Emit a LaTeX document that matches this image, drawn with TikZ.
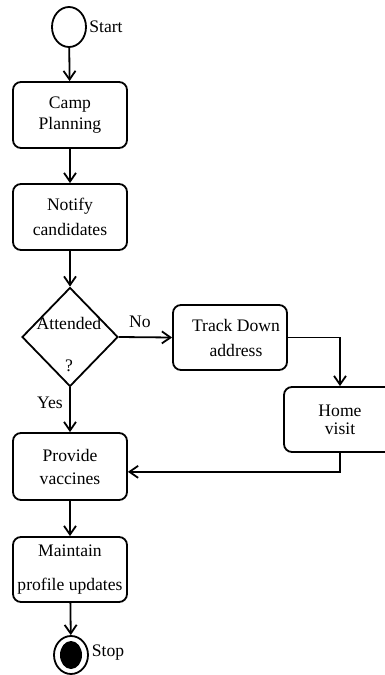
\documentclass[tikz,border=0pt]{standalone}
\usepackage{fontspec}
\setmainfont{Liberation Serif}
\usetikzlibrary{shapes.geometric,arrows.meta}
\begin{document}
\begin{tikzpicture}[x=0.75pt,y=-0.75pt,
  every node/.style={font=\fontsize{13.2}{14}\selectfont},
  act/.style={draw,rounded corners=6pt,minimum width=85.5pt,minimum height=49.5pt,align=center,inner sep=0pt,line width=1.35pt},
  flow/.style={line width=1.35pt,-{Straight Barb[length=6.5pt,width=9pt,line width=1.35pt]}},
  ]
\useasboundingbox[fill=white] (0,0) rectangle (385,675);
% nodes
\node[draw,ellipse,minimum width=25.5pt,minimum height=30pt,inner sep=0pt,line width=1.35pt] (start) at (69,27) {};
\node (startlbl) at (106,27) {Start};
\node[act] (camp) at (70,115) {Camp\\[1.75pt]Planning};
\node[act] (notify) at (70,217) {Notify\\[4.75pt]candidates};
\node[draw,diamond,minimum width=72pt,minimum height=74.25pt,inner sep=0pt,line width=1.35pt] (dec) at (70,337) {};
\node (dect) at (69,323) {Attended};
\node (decq) at (69,366) {?};
\node (nolbl) at (140,322) {No};
\node (yeslbl) at (50,403) {Yes};
\node[act,minimum height=48.75pt] (track) at (230,337.5) {\hspace*{9pt}Track Down\\[4.75pt]\hspace*{9pt}address};
\node[act,minimum width=84pt,minimum height=48.75pt] (home) at (340,419.5) {Home\\[-0.5pt]visit};
\node[act,minimum height=50.25pt] (provide) at (70,466.5) {Provide\\[3.25pt]vaccines};
\node[act,minimum height=48.75pt] (maintain) at (70,569.5) {Maintain\\[11.5pt]profile updates};
\node[draw,ellipse,minimum width=25.5pt,minimum height=28.5pt,inner sep=0pt,line width=1.35pt] (stop) at (71,655) {};
\node[fill=black,ellipse,minimum width=16.5pt,minimum height=21pt,inner sep=0pt] (stopin) at (71,655) {};
\node (stoplbl) at (108,653) {Stop};
% connectors
\draw[flow] (start) -- (camp);
\draw[flow] (camp) -- (notify);
\draw[flow] (notify) -- (dec.north);
\draw[flow] (dec.east) -- (track.west);
\draw[flow] (track.east) -| (home.north);
\draw[flow] (home.south) |- ([yshift=-4pt]provide.east);
\draw[flow] (dec.south) -- (provide);
\draw[flow] (provide) -- (maintain);
\draw[flow] (maintain) -- (stop);
\end{tikzpicture}
\end{document}
